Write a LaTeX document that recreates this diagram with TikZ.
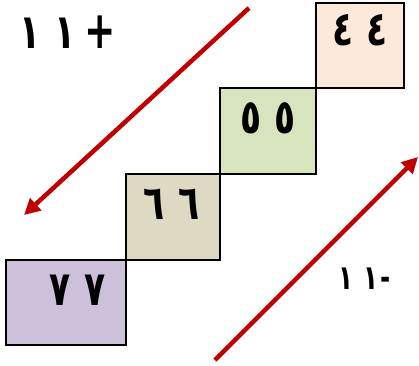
\documentclass[tikz,border=0pt]{standalone}
\usepackage{fontspec}
\TeXXeTstate=1
\newfontfamily\arabicfont[Script=Arabic]{DejaVu Sans}
\newfontfamily\signfont{DejaVu Sans}
\usetikzlibrary{arrows.meta}
\definecolor{peach}{HTML}{FDE9D9}
\definecolor{olivel}{HTML}{D7E4BD}
\definecolor{khaki}{HTML}{DDD9C3}
\definecolor{lilac}{HTML}{CCC0DA}
\definecolor{arrowred}{HTML}{C00000}
\tikzset{
  cell/.style={draw=black, line width=2.4pt},
  num/.style={font=\arabicfont\bfseries\fontsize{48}{52}\selectfont, inner sep=0pt, xscale=0.72, transform shape},
  redarrow/.style={draw=arrowred, line width=4.5pt, -{Triangle[length=16pt,width=16pt]}}
}
\newcommand{\dgap}{\hspace{0.4em}}
\begin{document}
\begin{tikzpicture}[x=1pt,y=-1pt]
\useasboundingbox (0,0) rectangle (419,365);
\filldraw[cell, fill=peach] (316,3) rectangle (404,88);
\filldraw[cell, fill=olivel] (220,88) rectangle (316,174);
\filldraw[cell, fill=khaki] (126,174) rectangle (220,260);
\filldraw[cell, fill=lilac] (6,260) rectangle (126,345);
\node[num] (t44) at (360,30) {\beginR ٤\dgap٤\endR};
\node[num] (t55) at (268,118) {\beginR ٥\dgap٥\endR};
\node[num] (t66) at (172,204) {\beginR ٦\dgap٦\endR};
\node[num] (t77) at (78,290) {\beginR ٧\dgap٧\endR};
\node[num] (plus) at (68,32) {\beginR ١\dgap١\endR\hspace{0.25em}\signfont\bfseries\fontsize{52}{56}\selectfont +};
\node[num, font=\arabicfont\bfseries\fontsize{34}{38}\selectfont] (minus) at (365,279) {\beginR ١\dgap١\endR\hspace{0.1em}\signfont\bfseries -};
\coordinate (a1s) at (249,8);
\coordinate (a1e) at (24,215);
\coordinate (a2s) at (215,360);
\coordinate (a2e) at (418,157);
\draw[redarrow] (a1s) -- (a1e);
\draw[redarrow] (a2s) -- (a2e);
\end{tikzpicture}
\end{document}
